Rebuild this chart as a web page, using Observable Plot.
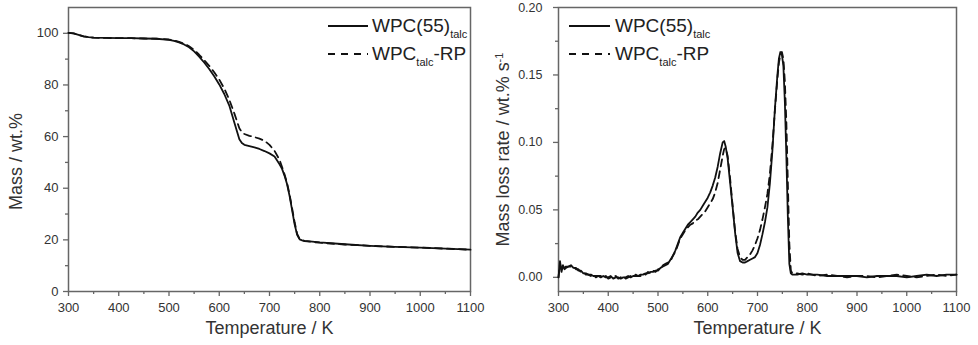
<!DOCTYPE html>
<html>
<head>
<meta charset="utf-8">
<script src="https://cdn.jsdelivr.net/npm/d3@7"></script>
<script src="https://cdn.jsdelivr.net/npm/@observablehq/plot@0.6"></script>
<style>
  html, body { margin: 0; padding: 0; background: white; }
  #wrap { display: flex; width: 978px; height: 345px; font-family: "Liberation Sans", Arial, sans-serif; color: #222; }
  .panel { position: relative; }
  .lrow { position: absolute; height: 28px; display: flex; align-items: center; white-space: nowrap; }
  .lrow span { font-size: 19px; line-height: 28px; color: #222; }
  .lrow sub { font-size: 11px; vertical-align: -6px; line-height: 0; }
</style>
</head>
<body>
<div id="wrap"></div>
<script>
// ---------- data ----------
const seriesNames = ["WPC(55)", "WPC"];
const xLabel = "Temperature / K";
const yLabelLeft = "Mass / wt.%";
const yLabelRight = "Mass loss rate / wt.% s";
const yLabelRightSup = "-1";

const xMajorTicks = [300, 400, 500, 600, 700, 800, 900, 1000, 1100];
const xMinorTicks = [350, 450, 550, 650, 750, 850, 950, 1050];
const yMajorTicksLeft = [0, 20, 40, 60, 80, 100];
const yMinorTicksLeft = [10, 30, 50, 70, 90];
const yMajorTicksRight = [0, 0.05, 0.10, 0.15, 0.20];
const yMinorTicksRight = [0.025, 0.075, 0.125, 0.175];

// TGA: mass (wt.%) vs temperature (K)
const tgaTemp = [300,310,320,330,340,350,375,400,425,450,475,
  500,510,520,530,540,550,560,570,580,590,600,610,620,630,640,645,
  650,660,670,680,690,700,710,720,725,730,735,740,745,750,755,760,765,770,
  800,850,900,950,1000,1050,1100];
const massWPC55 = [100.2,100.0,99.4,98.8,98.5,98.3,98.2,98.1,98.1,98.0,97.9,
  97.5,97.1,96.5,95.7,94.6,93.0,91.0,88.7,86.2,83.4,80.2,76.5,72.0,65.5,59.0,57.5,
  56.8,56.3,55.8,55.2,54.4,53.5,52.3,49.3,47.5,44.8,41.5,37.0,31.5,26.0,22.0,20.2,19.8,19.6,
  19.0,18.3,17.7,17.3,17.0,16.6,16.2];
const massRP = [100.2,100.0,99.4,98.8,98.5,98.3,98.2,98.1,98.1,98.0,97.9,
  97.6,97.2,96.7,96.0,95.0,93.6,91.7,89.6,87.4,84.9,82.1,78.6,74.3,69.0,63.2,61.8,
  61.0,60.3,59.8,59.2,58.4,56.8,54.5,51.0,48.2,45.3,42.0,37.5,32.2,26.8,22.3,20.3,19.8,19.5,
  18.9,18.2,17.7,17.3,17.0,16.6,16.2];

// DTG: mass loss rate (wt.% s^-1) vs temperature (K)
const dtgTemp = [300,303,306,309,312,315,
  320,325,330,335,340,345,350,355,360,365,370,375,380,385,390,395,400,405,410,415,
  420,425,430,435,440,445,450,455,460,465,470,475,480,485,490,495,500,505,510,515,
  520,525,530,535,540,545,550,555,560,565,570,575,580,585,590,595,600,605,610,615,620,625,
  630,633,636,
  640,645,650,655,660,665,670,675,680,685,690,695,700,705,710,715,720,725,730,735,740,
  743,746,749,752,755,758,761,764,767,770,
  780,790,800,
  820,840,860,880,900,920,940,960,980,1000,1020,1040,1060,1080,1100];
const rateWPC55 = [0.000,0.012,0.004,0.009,0.006,0.007,
  0.008,0.009,0.007,0.007,0.005,0.005,0.003,0.003,0.002,0.002,
  0.001,0.001,0.001,0.000,0.001,0.000,0.000,0.001,-0.001,0.000,
  0.000,-0.001,0.000,0.000,0.001,0.000,0.001,0.001,0.001,0.002,
  0.002,0.003,0.003,0.004,0.004,0.005,0.005,0.007,0.008,0.009,
  0.010,0.013,0.016,0.020,0.025,0.030,0.033,0.036,0.039,0.041,
  0.043,0.045,0.048,0.050,0.053,0.056,0.059,0.063,0.068,0.074,
  0.082,0.092,
  0.100,0.101,0.097,
  0.088,0.070,0.052,0.033,0.018,0.012,0.011,0.011,0.012,0.013,
  0.014,0.015,0.018,0.024,0.032,0.041,0.052,0.070,0.094,0.125,0.150,
  0.162,0.167,0.165,0.157,0.130,0.090,0.045,0.010,0.003,0.002,
  0.002,0.003,0.002,
  0.002,0.001,0.001,0.001,0.001,0.000,0.001,0.001,0.001,0.000,0.001,0.002,0.001,0.002,0.002];
const rateRP = [0.000,0.010,0.006,0.008,0.007,0.008,
  0.008,0.008,0.008,0.006,0.006,0.004,0.004,0.002,0.002,0.001,
  0.002,0.000,0.001,0.001,0.000,0.001,-0.001,0.000,0.000,0.001,
  -0.001,0.000,0.001,-0.001,0.000,0.001,0.000,0.002,0.001,0.001,
  0.003,0.002,0.004,0.003,0.005,0.004,0.006,0.006,0.009,0.010,
  0.011,0.012,0.016,0.019,0.024,0.029,0.032,0.035,0.037,0.039,
  0.040,0.042,0.043,0.045,0.047,0.049,0.052,0.055,0.058,0.063,
  0.070,0.080,
  0.090,0.095,0.096,
  0.090,0.073,0.053,0.034,0.021,0.015,0.013,0.013,0.015,0.017,
  0.020,0.024,0.029,0.035,0.043,0.052,0.062,0.077,0.098,0.124,0.147,
  0.159,0.165,0.167,0.162,0.145,0.115,0.070,0.025,0.005,0.003,
  0.003,0.002,0.003,
  0.001,0.002,0.001,0.000,0.001,0.001,0.000,0.001,0.002,0.001,0.000,0.001,0.002,0.001,0.002];

// ---------- build ----------
const FONT = '"Liberation Sans", Arial, sans-serif';
const tga = tgaTemp.map((t, i) => ({t, a: massWPC55[i], b: massRP[i]}));
const dtg = dtgTemp.map((t, i) => ({t, a: rateWPC55[i], b: rateRP[i]}));

function panel({width, marginRight, yDomain, yMajor, yMinor, yFormat, yFont, yPad, data, yLabel, ydx, ydy}) {
  return Plot.plot({
    width, height: 345,
    marginLeft: 68, marginRight, marginTop: 7, marginBottom: 54,
    style: {fontFamily: FONT, fontSize: "13px", color: "#333", background: "white", overflow: "visible"},
    x: {domain: [300, 1100], label: null},
    y: {domain: yDomain, label: null},
    marks: [
      Plot.axisX({ticks: xMajorTicks, tickSize: 5, tickPadding: 6, stroke: "#666", strokeWidth: 1.3, label: null, tickFormat: d => String(d)}),
      Plot.axisX({ticks: xMinorTicks, tickSize: 3, stroke: "#666", strokeWidth: 1.3, label: null, tickFormat: () => ""}),
      Plot.axisY({ticks: yMajor, tickSize: 5, tickPadding: yPad, stroke: "#666", strokeWidth: 1.3, label: null, tickFormat: yFormat, fontSize: yFont}),
      Plot.axisY({ticks: yMinor, tickSize: 3, stroke: "#666", strokeWidth: 1.3, label: null, tickFormat: () => ""}),
      Plot.frame({stroke: "#666", strokeWidth: 1.5}),
      Plot.line(data, {x: "t", y: "a", stroke: "#111", strokeWidth: 1.8}),
      Plot.line(data, {x: "t", y: "b", stroke: "#111", strokeWidth: 1.8, strokeDasharray: "7,5"}),
      Plot.text([xLabel], {frameAnchor: "bottom", dy: 42, fontSize: 18, fill: "#333", textAnchor: "middle"}),
      Plot.text([yLabel], {frameAnchor: "left", dx: ydx, dy: ydy, rotate: -90, fontSize: 18, fill: "#333", textAnchor: "middle"})
    ]
  });
}

const leftPlot = panel({width: 490, marginRight: 20, yDomain: [0, 110], yMajor: yMajorTicksLeft, yMinor: yMinorTicksLeft,
  yFormat: d => String(d), yFont: 13, yPad: 5, data: tga, yLabel: yLabelLeft, ydx: -52, ydy: 12});
const rightPlot = panel({width: 488, marginRight: 22, yDomain: [-0.0105, 0.20], yMajor: yMajorTicksRight, yMinor: yMinorTicksRight,
  yFormat: d3.format(".2f"), yFont: 12.5, yPad: 11, data: dtg, yLabel: yLabelRight, ydx: -55, ydy: 0});

// superscript on right y label
d3.select(rightPlot).selectAll("text").filter(function() { return this.textContent === yLabelRight; })
  .append("tspan").attr("baseline-shift", "super").attr("font-size", 11).text(yLabelRightSup);

function legend(lineLeft, lineWidth, textLeft) {
  const rows = [
    {top: 12, dash: null, html: `${seriesNames[0]}<sub>talc</sub>`},
    {top: 40, dash: "7,6", html: `${seriesNames[1]}<sub>talc</sub>-RP`}
  ];
  return rows.map(r => `
    <div class="lrow" style="top:${r.top}px;left:${lineLeft}px;">
      <svg width="${lineWidth}" height="4" style="display:block"><line x1="0" x2="${lineWidth}" y1="2" y2="2" stroke="#111" stroke-width="1.8" ${r.dash ? `stroke-dasharray="${r.dash}"` : ""}/></svg>
      <span style="margin-left:${textLeft - lineLeft - lineWidth}px">${r.html}</span>
    </div>`).join("");
}

const wrap = document.getElementById("wrap");
const p1 = document.createElement("div"); p1.className = "panel"; p1.style.width = "490px";
const p2 = document.createElement("div"); p2.className = "panel"; p2.style.width = "488px";
p1.appendChild(leftPlot); p2.appendChild(rightPlot);
p1.insertAdjacentHTML("beforeend", legend(328, 40, 372));
p2.insertAdjacentHTML("beforeend", legend(79, 41, 125));
wrap.appendChild(p1); wrap.appendChild(p2);
</script>
</body>
</html>
